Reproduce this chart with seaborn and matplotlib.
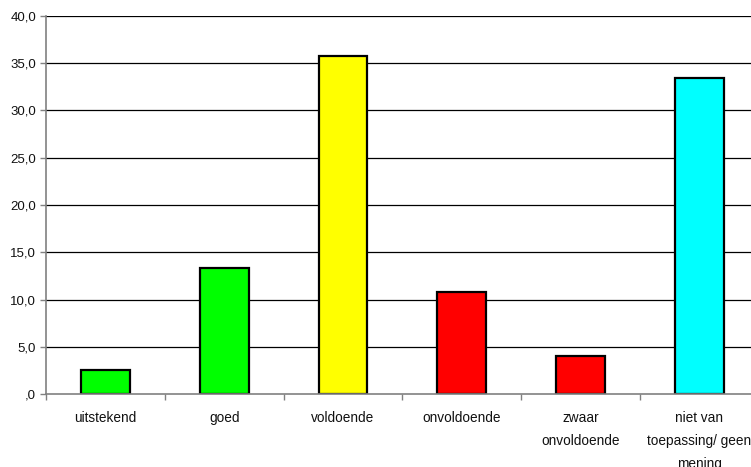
import matplotlib
matplotlib.use("Agg")
import matplotlib.pyplot as plt
import seaborn as sns
import pandas as pd
from matplotlib.ticker import FixedLocator, FuncFormatter

categories = ["uitstekend", "goed", "voldoende", "onvoldoende",
              "zwaar\nonvoldoende", "niet van\ntoepassing/ geen\nmening"]
values = [2.5, 13.3, 35.8, 10.8, 4.0, 33.4]
colors = ["#00FF00", "#00FF00", "#FFFF00", "#FF0000", "#FF0000", "#00FFFF"]
y_ticks = [0, 5, 10, 15, 20, 25, 30, 35, 40]

sns.set_style("white")
plt.rcParams["font.family"] = ["Liberation Sans", "DejaVu Sans"]

df = pd.DataFrame({"categorie": categories, "waarde": values})

fig = plt.figure(figsize=(7.51, 4.67), dpi=100)
W, H = 751, 467
left, right, top, bottom = 46, 758.8, 16, 394
ax = fig.add_axes([left / W, (H - bottom) / H, (right - left) / W, (bottom - top) / H])

sns.barplot(data=df, x="categorie", y="waarde", hue="categorie",
            palette=colors, saturation=1, legend=False, width=0.41,
            edgecolor="black", linewidth=1.6, ax=ax, zorder=3)

ax.set_xlim(-0.5, len(categories) - 0.5)
ax.set_ylim(0, 40)
ax.set_xlabel("")
ax.set_ylabel("")

# horizontal gridlines
for y in y_ticks[1:]:
    ax.axhline(y, color="black", linewidth=0.9, zorder=1)


def fmt(v, pos):
    s = ("%.1f" % v).replace(".", ",")
    return s[1:] if s.startswith("0") else s


ax.yaxis.set_major_locator(FixedLocator(y_ticks))
ax.yaxis.set_major_formatter(FuncFormatter(fmt))
ax.tick_params(axis="y", which="major", left=True, length=4, width=1,
               color="#808080", labelsize=9.5, labelcolor="#111111", pad=3)

# x: labels at centres, tick marks at category boundaries
ax.set_xticks(range(len(categories)))
ax.set_xticklabels(categories, linespacing=1.8)
ax.set_xticks([i - 0.5 for i in range(len(categories) + 1)], minor=True)
ax.tick_params(axis="x", which="major", bottom=False, length=0,
               labelsize=9.8, labelcolor="#111111", pad=12.5)
ax.tick_params(axis="x", which="minor", bottom=True, length=4, width=1,
               color="#808080")

for s in ["top", "right"]:
    ax.spines[s].set_visible(False)
for s in ["left", "bottom"]:
    ax.spines[s].set_color("#808080")
    ax.spines[s].set_linewidth(1.2)
    ax.spines[s].set_zorder(4)

fig.savefig("out.png", dpi=100)
